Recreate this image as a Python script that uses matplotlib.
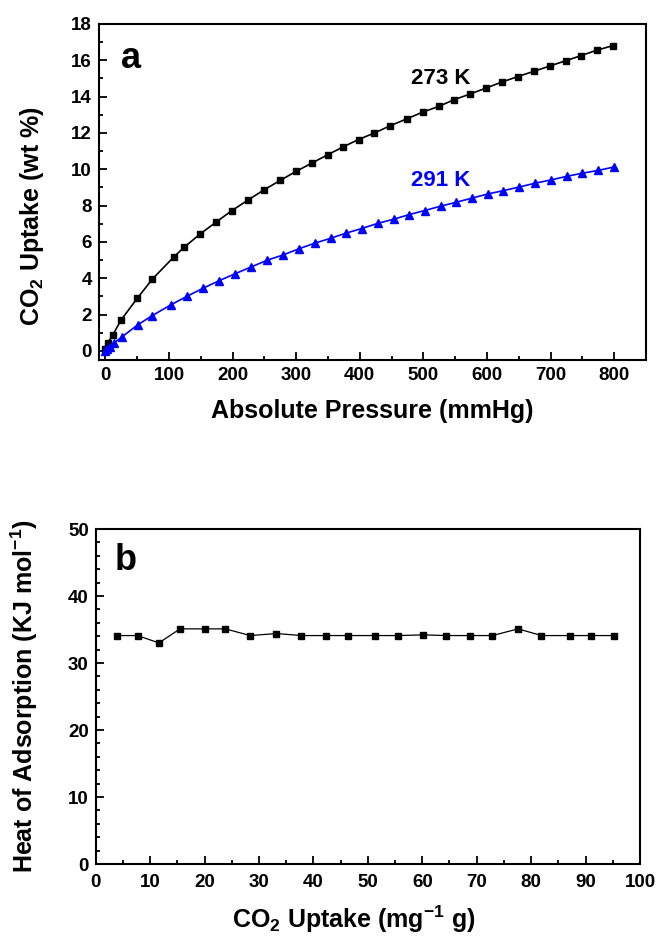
import numpy as np
import matplotlib
matplotlib.use("Agg")
import matplotlib.pyplot as plt
from matplotlib.ticker import MultipleLocator

plt.rcParams['font.family'] = ['Liberation Sans', 'DejaVu Sans']
plt.rcParams['font.weight'] = 'bold'
plt.rcParams['mathtext.fontset'] = 'custom'
plt.rcParams['mathtext.rm'] = 'Liberation Sans:bold'
plt.rcParams['mathtext.bf'] = 'Liberation Sans:bold'
plt.rcParams['mathtext.default'] = 'bf'

# panel a: CO2 isotherms
p_273 = [0, 4, 12, 25, 50, 74, 108, 124, 149, 174, 199, 224, 249, 275, 300,
         325, 350, 373, 398, 423, 448, 474, 499, 524, 548, 573, 599, 623, 648,
         674, 699, 724, 748, 773, 798]
u_273 = [0.1, 0.45, 0.9, 1.72, 2.89, 3.96, 5.19, 5.71, 6.44, 7.09, 7.73, 8.30,
         8.86, 9.39, 9.89, 10.35, 10.81, 11.22, 11.64, 12.0, 12.4, 12.78, 13.15,
         13.46, 13.83, 14.14, 14.48, 14.8, 15.1, 15.4, 15.69, 15.98, 16.26,
         16.56, 16.81]

p_291 = [0, 3, 8, 13, 26, 51, 74, 103, 129, 154, 179, 204, 229, 254, 279, 304,
         329, 354, 378, 403, 428, 453, 478, 502, 527, 551, 576, 601, 625, 650,
         675, 700, 725, 749, 775, 800]
u_291 = [0.0, 0.1, 0.22, 0.42, 0.77, 1.44, 1.95, 2.54, 3.02, 3.46, 3.87, 4.25,
         4.62, 4.99, 5.28, 5.62, 5.93, 6.2, 6.48, 6.74, 7.02, 7.25, 7.51, 7.73,
         7.97, 8.18, 8.41, 8.64, 8.82, 9.02, 9.23, 9.41, 9.61, 9.78, 9.94, 10.13]

# panel b: heat of adsorption
uptake_b = [3.9, 7.7, 11.6, 15.5, 20.0, 23.8, 28.4, 33.2, 37.8, 42.3, 46.4,
            51.4, 55.6, 60.2, 64.4, 68.8, 72.9, 77.6, 81.9, 87.2, 91.0, 95.3]
heat_b = [34.1, 34.1, 33.0, 35.1, 35.1, 35.1, 34.1, 34.4, 34.1, 34.1, 34.1,
          34.1, 34.1, 34.2, 34.1, 34.1, 34.1, 35.1, 34.1, 34.1, 34.1, 34.1]

fig = plt.figure(figsize=(6.56, 9.41), dpi=100)
ax1 = fig.add_axes([0.1509, 0.6174, 0.8339, 0.3571])
ax2 = fig.add_axes([0.1459, 0.0818, 0.8297, 0.3560])


def style(ax):
    for s in ax.spines.values():
        s.set_linewidth(1.5)
    ax.tick_params(which='both', direction='in', top=False, right=False,
                   width=1.3, labelsize=13.5, pad=5)
    ax.tick_params(which='major', length=6)
    ax.tick_params(which='minor', length=3)
    for lab in ax.get_xticklabels() + ax.get_yticklabels():
        lab.set_fontweight('bold')


ax1.plot(p_273, u_273, color='black', marker='s', markersize=5, lw=1.2)
ax1.plot(p_291, u_291, color='blue', marker='^', markersize=6, lw=1.2)
ax1.set_xlim(-10, 850)
ax1.set_ylim(-0.5, 18)
ax1.xaxis.set_major_locator(MultipleLocator(100))
ax1.xaxis.set_minor_locator(MultipleLocator(50))
ax1.yaxis.set_major_locator(MultipleLocator(2))
ax1.yaxis.set_minor_locator(MultipleLocator(1))
style(ax1)
ax1.set_xlabel('Absolute Pressure (mmHg)', fontsize=18, fontweight='bold')
ax1.set_ylabel('CO$_2$ Uptake (wt %)', fontsize=18, fontweight='bold')
ax1.xaxis.set_label_coords(0.5, -0.115)
ax1.yaxis.set_label_coords(-0.097, 0.429)
ax1.text(0.041, 0.896, 'a', transform=ax1.transAxes, fontsize=26,
         fontweight='bold', va='center')
ax1.text(481, 15.0, '273 K', fontsize=16, fontweight='bold', va='center')
ax1.text(481, 9.4, '291 K', fontsize=16, fontweight='bold', va='center',
         color='blue')

ax2.plot(uptake_b, heat_b, color='black', marker='s', markersize=5, lw=0.9)
ax2.set_xlim(0, 100)
ax2.set_ylim(0, 50)
ax2.xaxis.set_major_locator(MultipleLocator(10))
ax2.xaxis.set_minor_locator(MultipleLocator(5))
ax2.yaxis.set_major_locator(MultipleLocator(10))
ax2.yaxis.set_minor_locator(MultipleLocator(2))
style(ax2)
ax2.tick_params(axis='x', pad=7)
ax2.set_xlabel('CO$_2$ Uptake (mg$^{-1}$ g)', fontsize=18, fontweight='bold',
               va='center')
ax2.set_ylabel('Heat of Adsorption (KJ mol$^{-1}$)', fontsize=18,
               fontweight='bold')
ax2.xaxis.set_label_coords(0.475, -0.164)
ax2.yaxis.set_label_coords(-0.102, 0.5)
ax2.text(0.034, 0.907, 'b', transform=ax2.transAxes, fontsize=26,
         fontweight='bold', va='center')

fig.savefig('out.png', dpi=100)
